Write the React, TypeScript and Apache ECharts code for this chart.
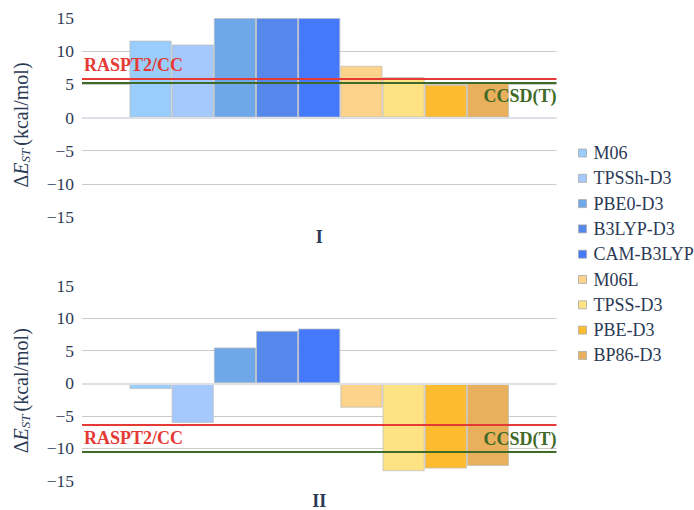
import React, { useEffect, useRef } from "react";
import * as echarts from "echarts";

const methods = ["M06", "TPSSh-D3", "PBE0-D3", "B3LYP-D3", "CAM-B3LYP", "M06L", "TPSS-D3", "PBE-D3", "BP86-D3"];
const colors = ["#99cdfb", "#a5c8fd", "#6ea8e8", "#5588ea", "#4479fb", "#fdd28a", "#fee384", "#fdbb30", "#e8b05c"];
const valuesI = [11.6, 11.0, 15, 15, 15, 7.8, 6.1, 4.95, 5.3];
const valuesII = [-0.9, -6.1, 5.5, 8.05, 8.4, -3.75, -13.5, -13.1, -12.7];
const panelLabels = ["I", "II"];
const refRaspt2 = [5.9, -6.4];
const refCcsdt = [5.2, -10.55];
const yTicks = { min: -15, max: 15, interval: 5 };

const FONT = "Liberation Serif";
const TEXT = "#2b3a55";

export default function App() {
  const ref = useRef<HTMLDivElement>(null);
  useEffect(() => {
    document.body.style.margin = "0";
    const chart = echarts.init(ref.current!, null, { renderer: "svg" });
    const grids = [
      { left: 82, width: 474.5, top: 18, height: 199 },
      { left: 82, width: 474.5, top: 285.5, height: 199 },
    ];
    const xAxes = panelLabels.map((lab, i) => ({
      type: "category",
      gridIndex: i,
      data: [lab],
      axisLine: { show: false },
      axisTick: { show: false },
      axisLabel: { fontFamily: FONT, fontSize: 18, fontWeight: "bold", color: TEXT, margin: 11 },
    }));
    const yAxes = panelLabels.map((_, i) => ({
      type: "value",
      gridIndex: i,
      min: yTicks.min,
      max: yTicks.max,
      interval: yTicks.interval,
      axisLine: { show: false },
      axisTick: { show: false },
      splitLine: { show: true, showMinLine: false, showMaxLine: false, lineStyle: { color: "#cccccc", width: 1 } },
      axisLabel: {
        fontFamily: FONT,
        fontSize: 17.5,
        color: TEXT,
        margin: 8,
        formatter: (v: number) => (v < 0 ? "\u2212" + Math.abs(v) : String(v)),
      },
      name: "{d|\u0394}{e|E}{s|ST} {d|(kcal/mol)}",
      nameLocation: "middle",
      nameGap: 50,
      nameRotate: 90,
      nameTextStyle: {
        fontFamily: FONT,
        padding: [0, 15, 0, 0],
        rich: {
          d: { fontFamily: FONT, fontSize: 20, color: TEXT, lineHeight: 22, verticalAlign: "middle" },
          e: { fontFamily: FONT, fontSize: 20, fontStyle: "italic", color: TEXT, lineHeight: 22, verticalAlign: "middle" },
          s: { fontFamily: FONT, fontSize: 13, fontStyle: "italic", color: TEXT, lineHeight: 14, verticalAlign: "bottom" },
        },
      },
    }));
    const series: any[] = [];
    [valuesI, valuesII].forEach((vals, g) => {
      methods.forEach((m, k) => {
        const s: any = {
          type: "bar",
          name: m,
          xAxisIndex: g,
          yAxisIndex: g,
          data: [vals[k]],
          barGap: "0%",
          barCategoryGap: "20%",
          itemStyle: { color: colors[k], borderColor: "rgba(190,190,190,0.75)", borderWidth: 1 },
          emphasis: { disabled: true },
        };
        if (k === 0) {
          s.markLine = {
            silent: true,
            symbol: "none",
            animation: false,
            data: [
              {
                yAxis: 0,
                lineStyle: { color: "#dde1e7", width: 2, type: "solid" },
                label: { show: false },
              },
              {
                yAxis: refRaspt2[g],
                lineStyle: { color: "#e53935", width: 2, type: "solid" },
                label: {
                  show: true,
                  formatter: "RASPT2/CC",
                  position: g === 0 ? "insideStartTop" : "insideStartBottom",
                  distance: [2, 4],
                  fontFamily: FONT,
                  fontSize: 18,
                  fontWeight: "bold",
                  color: "#e53935",
                },
              },
              {
                yAxis: refCcsdt[g],
                lineStyle: { color: "#3f6a27", width: 2, type: "solid" },
                label: {
                  show: true,
                  formatter: "CCSD(T)",
                  position: g === 0 ? "insideEndBottom" : "insideEndTop",
                  distance: [0, 4],
                  fontFamily: FONT,
                  fontSize: 18,
                  fontWeight: "bold",
                  color: "#3f6a27",
                },
              },
            ],
          };
        }
        series.push(s);
      });
    });
    chart.setOption({
      animation: false,
      grid: grids,
      xAxis: xAxes,
      yAxis: yAxes,
      legend: {
        orient: "vertical",
        left: 573,
        top: 139,
        data: methods,
        itemWidth: 8,
        itemHeight: 8,
        itemGap: 7.3,
        icon: "rect",
        itemStyle: { borderColor: "rgba(170,170,170,0.8)", borderWidth: 1 },
        textStyle: { fontFamily: FONT, fontSize: 18, color: TEXT, padding: [0, 0, 0, 2] },
        selectedMode: false,
      },
      series,
    });
    return () => chart.dispose();
  }, []);
  return <div ref={ref} style={{ width: 694, height: 510 }} />;
}
